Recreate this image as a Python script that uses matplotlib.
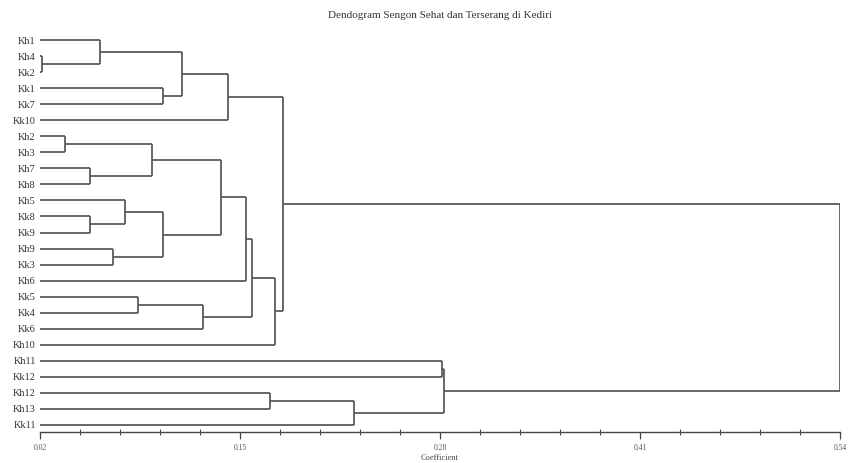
import numpy as np
import matplotlib.pyplot as plt
from matplotlib.ticker import FixedLocator

# leaf labels, top to bottom
labels = ['Kh1', 'Kh4', 'Kk2', 'Kk1', 'Kk7', 'Kk10', 'Kh2', 'Kh3', 'Kh7', 'Kh8',
          'Kh5', 'Kk8', 'Kk9', 'Kh9', 'Kk3', 'Kh6', 'Kk5', 'Kk4', 'Kk6', 'Kh10',
          'Kh11', 'Kk12', 'Kh12', 'Kh13', 'Kk11']

# merges: node ids < 25 are leaves, merge k makes node 25+k
merge_a = [1, 0, 3, 26, 28, 6, 8, 30, 11, 10, 13, 34, 32, 37, 16, 39, 38, 41, 29, 20, 22, 45, 44, 43]
merge_b = [2, 25, 4, 27, 5, 7, 9, 31, 12, 33, 14, 35, 36, 15, 17, 18, 40, 19, 42, 21, 23, 24, 46, 47]
merge_h = [0.0213, 0.059, 0.100, 0.112, 0.142, 0.0363, 0.0525, 0.0926, 0.0525, 0.0753,
           0.0676, 0.1001, 0.1375, 0.1537, 0.0839, 0.1258, 0.1576, 0.1728, 0.178,
           0.2811, 0.1695, 0.2243, 0.2826, 0.54]

x_ticks = [0.02, 0.15, 0.28, 0.41, 0.54]
x0 = 0.02
W, H = 848, 463

fig = plt.figure(figsize=(W / 100, H / 100), dpi=100)
# axis runs from px 40 to 840, bottom line at px 432
ax = fig.add_axes([40 / W, (H - 432) / H, 800 / W, 402 / H])

n = len(labels)
pos = {i: (x0, float(i)) for i in range(n)}
col = '#5a5a5a'
lw = 1.3

for k, (a, b, h) in enumerate(zip(merge_a, merge_b, merge_h)):
    xa, ya = pos[a]
    xb, yb = pos[b]
    ax.plot([xa, h], [ya, ya], color=col, lw=lw, solid_capstyle='butt')
    ax.plot([xb, h], [yb, yb], color=col, lw=lw, solid_capstyle='butt')
    ax.plot([h, h], [ya, yb], color=col, lw=lw, solid_capstyle='butt')
    pos[n + k] = (h, (ya + yb) / 2)

ax.set_xlim(0.02, 0.54)
ax.set_ylim(24 + 7 / 16.04, -10 / 16.04)

for s in ['top', 'right', 'left']:
    ax.spines[s].set_visible(False)
ax.spines['bottom'].set_color('#444444')
ax.spines['bottom'].set_linewidth(1.0)

ax.set_yticks(range(n))
ax.set_yticklabels(labels, family='Liberation Serif', fontsize=7.5, color='#333333')
ax.tick_params(axis='y', length=0, pad=3)

ax.set_xticks(x_ticks)
ax.set_xticklabels([f'{t:.2f}' for t in x_ticks])
# four minor ticks between each pair of majors
minor = [x_ticks[0] + k * 0.026 for k in range(21)]
ax.xaxis.set_minor_locator(FixedLocator(minor))
ax.tick_params(axis='x', which='major', direction='out', length=5, width=0.9,
               color='#444444', labelsize=5.5, labelcolor='#555555', pad=4)
ax.tick_params(axis='x', which='minor', direction='inout', length=4, width=0.8,
               color='#444444')
for t in ax.get_xticklabels():
    t.set_family('Liberation Serif')

fig.text(440 / W, 1 - 15 / H, 'Dendogram Sengon Sehat dan Terserang di Kediri',
         ha='center', va='center', family='Liberation Serif', fontsize=8, color='#333333')
fig.text(440 / W, 1 - 458 / H, 'Coefficient', ha='center', va='center',
         family='Liberation Serif', fontsize=6, color='#444444')

fig.savefig('out.png', dpi=100)
